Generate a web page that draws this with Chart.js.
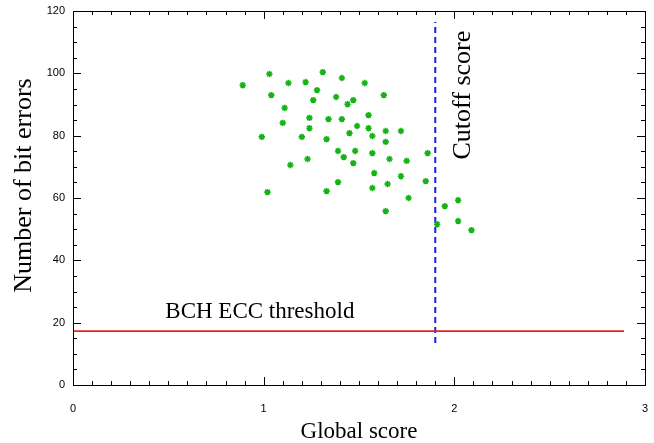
<!DOCTYPE html>
<html>
<head>
<meta charset="utf-8">
<script src="https://cdn.jsdelivr.net/npm/chart.js@4"></script>
<style>
html, body { margin: 0; padding: 0; background: #fff; }
</style>
</head>
<body>
<canvas id="chart" width="654" height="443"></canvas>
<script>
// global score of each sample (x) and its number of bit errors (y)
const scores = [0.89, 1.03, 1.13, 1.22, 1.31, 1.41, 1.28, 1.04, 1.26, 1.38,
    1.44, 1.47, 1.11, 1.10, 1.24, 1.34, 1.41, 1.24, 1.45, 1.49,
    0.99, 1.20, 1.33, 1.39, 1.48, 1.42, 1.23, 1.14, 1.47, 1.39,
    1.33, 1.02, 1.53, 1.63, 1.55, 1.55, 1.57, 1.64, 1.72, 1.64,
    1.57, 1.66, 1.75, 1.86, 1.58, 1.72, 1.85, 1.57, 1.65, 1.76,
    1.64, 1.95, 2.02, 1.91, 2.02, 2.09];
const bitErrors = [96.2, 99.8, 96.9, 97.2, 100.4, 98.5, 94.6, 93.0, 91.4, 92.4,
    90.1, 91.4, 88.9, 84.1, 85.7, 85.3, 85.3, 82.4, 80.8, 83.1,
    79.6, 79.6, 78.9, 75.1, 75.1, 73.1, 72.5, 70.6, 71.2, 65.1,
    62.2, 61.9, 96.9, 93.0, 86.6, 82.4, 79.9, 81.5, 81.5, 78.0,
    74.4, 72.5, 71.9, 74.4, 68.0, 67.0, 65.4, 63.2, 64.5, 60.0,
    55.8, 57.4, 59.3, 51.6, 52.6, 49.7];

// threshold line and cutoff line
const eccThreshold = 17.3;
const thresholdX = [0, 2.89];
const cutoffScore = 1.9;
const cutoffY = [13.5, 116.5];

const xTicks = [0, 1, 2, 3];
const yTicks = [0, 20, 40, 60, 80, 100, 120];

let points = [];
scores.forEach(function (s, i) {
    points.push({x: s, y: bitErrors[i]});
});

const serif = '"Liberation Serif", "DejaVu Serif", serif';

// box around the plot with inward ticks, y title and the two text labels
const framePlugin = {
    id: 'frame',
    afterDatasetsDraw(chart) {
        const ctx = chart.ctx;
        const a = chart.chartArea;
        const xs = chart.scales.x, ys = chart.scales.y;
        ctx.save();
        ctx.strokeStyle = '#000';
        ctx.lineWidth = 1;
        ctx.strokeRect(Math.round(a.left) + 0.5, Math.round(a.top) + 0.5,
            Math.round(a.right - a.left), Math.round(a.bottom - a.top));
        ctx.beginPath();
        for (let i = 0; i <= 30; i++) {
            const px = Math.round(xs.getPixelForValue(i / 10)) + 0.5;
            const len = i % 10 === 0 ? 8 : 4;
            ctx.moveTo(px, a.bottom); ctx.lineTo(px, a.bottom - len);
            ctx.moveTo(px, a.top); ctx.lineTo(px, a.top + len);
        }
        for (let v = 0; v <= 120; v += 5) {
            const py = Math.round(ys.getPixelForValue(v)) + 0.5;
            const len = v % 20 === 0 ? 8 : 4;
            ctx.moveTo(a.left, py); ctx.lineTo(a.left + len, py);
            ctx.moveTo(a.right, py); ctx.lineTo(a.right - len, py);
        }
        ctx.stroke();

        ctx.fillStyle = '#000';
        ctx.font = '23px ' + serif;
        ctx.textAlign = 'center';
        ctx.textBaseline = 'alphabetic';
        ctx.fillText('BCH ECC threshold', xs.getPixelForValue(0.98), ys.getPixelForValue(21.5));

        ctx.save();
        ctx.translate(xs.getPixelForValue(2.08), ys.getPixelForValue(93));
        ctx.rotate(-Math.PI / 2);
        ctx.font = '26px ' + serif;
        ctx.fillText('Cutoff score', 0, 0);
        ctx.restore();

        // y axis title sits a bit above the middle of the axis
        ctx.translate(31, ys.getPixelForValue(64));
        ctx.rotate(-Math.PI / 2);
        ctx.font = '26px ' + serif;
        ctx.fillText('Number of bit errors', 0, 0);
        ctx.restore();
    }
};

new Chart(document.getElementById('chart'), {
    type: 'scatter',
    data: {
        datasets: [{
            data: points,
            pointStyle: 'star',
            pointRadius: 3.2,
            borderColor: '#14b414',
            backgroundColor: '#14b414',
            borderWidth: 1.6
        }, {
            type: 'line',
            data: thresholdX.map(x => ({x: x, y: eccThreshold})),
            borderColor: '#e8201c',
            borderWidth: 1.6,
            pointRadius: 0,
            fill: false
        }, {
            type: 'line',
            data: cutoffY.map(y => ({x: cutoffScore, y: y})),
            borderColor: '#1c1cf0',
            borderWidth: 2,
            borderDash: [6, 4],
            pointRadius: 0,
            fill: false
        }]
    },
    options: {
        responsive: false,
        animation: false,
        layout: {padding: {top: 11, right: 9, left: 0, bottom: 0}},
        plugins: {legend: {display: false}, tooltip: {enabled: false}},
        scales: {
            x: {
                type: 'linear',
                min: 0,
                max: 3,
                afterBuildTicks: s => { s.ticks = xTicks.map(v => ({value: v})); },
                afterFit: s => { s.height = 58; },
                grid: {display: false, drawTicks: true, tickLength: 17},
                border: {display: false},
                ticks: {padding: 0, color: '#000', font: {family: 'Liberation Sans', size: 11}},
                title: {
                    display: true,
                    text: 'Global score',
                    color: '#000',
                    font: {family: serif, size: 23, lineHeight: 1},
                    padding: {top: 0, bottom: 0}
                }
            },
            y: {
                min: 0,
                max: 120,
                afterBuildTicks: s => { s.ticks = yTicks.map(v => ({value: v})); },
                afterFit: s => { s.width = 73; },
                grid: {display: false, drawTicks: true, tickLength: 8},
                border: {display: false},
                ticks: {padding: 0, color: '#000', font: {family: 'Liberation Sans', size: 11}},
                title: {display: false}
            }
        }
    },
    plugins: [framePlugin]
});
</script>
</body>
</html>
